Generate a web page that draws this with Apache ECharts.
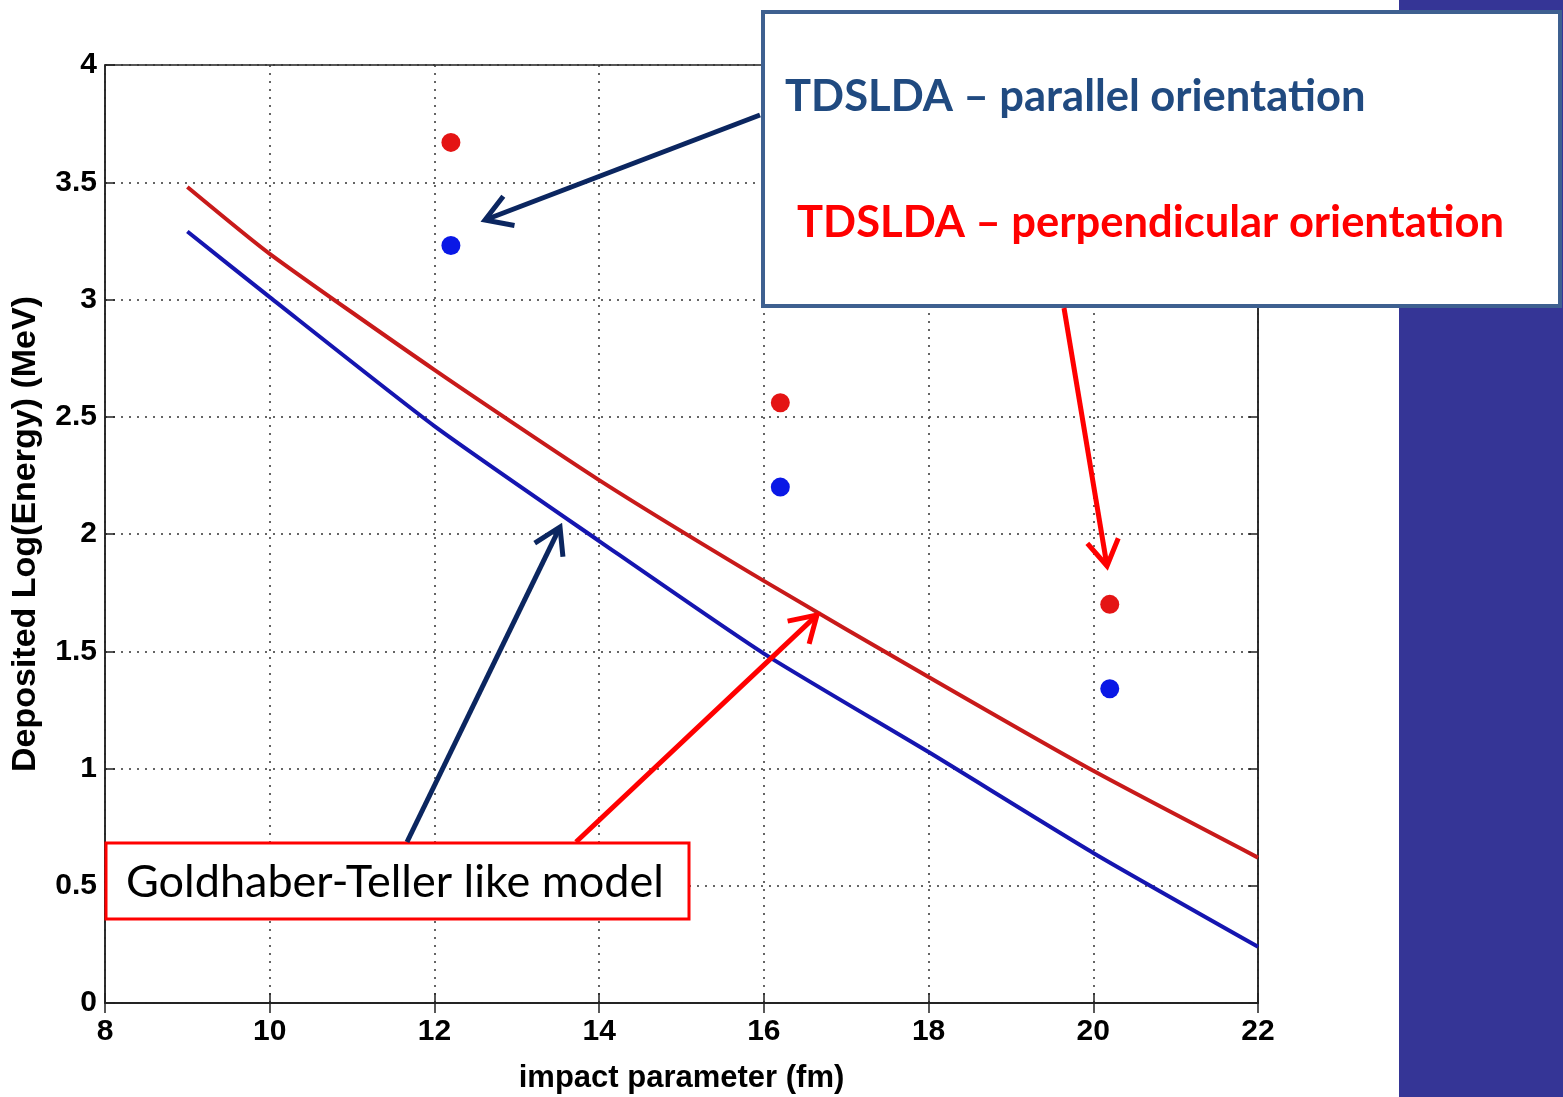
<!DOCTYPE html>
<html><head><meta charset="utf-8">
<script src="https://cdn.jsdelivr.net/npm/echarts@6/dist/echarts.min.js"></script>
<style>html,body{margin:0;padding:0;background:#fff}#c{width:1563px;height:1097px}</style>
</head><body><div id="c"></div>
<script>
// ---- data ----
var xLine = [9, 10, 12, 14, 16, 18, 20, 22];
var redLine = [3.48, 3.195, 2.70, 2.23, 1.80, 1.39, 0.99, 0.62];
var blueLine = [3.29, 3.01, 2.46, 1.97, 1.49, 1.07, 0.64, 0.24];
var xPts = [12.2, 16.2, 20.2];
var redPts = [3.67, 2.56, 1.70];
var bluePts = [3.23, 2.20, 1.34];
var xTicks = [8, 10, 12, 14, 16, 18, 20, 22];
var yTicks = [0, 0.5, 1, 1.5, 2, 2.5, 3, 3.5, 4];
var xTitle = 'impact parameter (fm)';
var yTitle = 'Deposited Log(Energy) (MeV)';
var legendParallel = 'TDSLDA \u2013 parallel orientation';
var legendPerp = 'TDSLDA \u2013 perpendicular orientation';
var modelLabel = 'Goldhaber-Teller like model';

function zip(a, b) { return a.map(function (v, i) { return [v, b[i]]; }); }

function arrow(x1, y1, x2, y2, color, w, head) {
  var a = Math.atan2(y2 - y1, x2 - x1), s = 0.55;
  var p1 = [x2 - head * Math.cos(a - s), y2 - head * Math.sin(a - s)];
  var p2 = [x2 - head * Math.cos(a + s), y2 - head * Math.sin(a + s)];
  return [
    { type: 'line', z: 50, shape: { x1: x1, y1: y1, x2: x2 - 2 * Math.cos(a), y2: y2 - 2 * Math.sin(a) }, style: { stroke: color, lineWidth: w, lineCap: 'butt' } },
    { type: 'polyline', z: 50, shape: { points: [p1, [x2, y2], p2] }, style: { stroke: color, lineWidth: w, lineJoin: 'miter', fill: null } }
  ];
}

var chart = echarts.init(document.getElementById('c'), null, { renderer: 'canvas' });
var tickFont = { fontFamily: 'Liberation Sans', fontWeight: 'bold', fontSize: 30, color: '#000' };
var gridLine = { show: true, lineStyle: { color: '#333', width: 1.5, type: [2, 6] } };
var axisLn = { show: true, lineStyle: { color: '#222', width: 1.5 } };
var tickLn = { show: true, inside: true, length: 10, lineStyle: { color: '#222', width: 1.5 } };

var graphics = [
  { type: 'rect', z: -10, silent: true, shape: { x: 1399, y: 0, width: 164, height: 1097 }, style: { fill: '#353596' } },
  { type: 'rect', z: 40, shape: { x: 763, y: 12, width: 797, height: 294 }, style: { fill: '#fff', stroke: '#3E6090', lineWidth: 4 } },
  { type: 'text', z: 41, style: { x: 785, y: 97, text: legendParallel, fill: '#204A80', font: 'bold 43.5px Lato', verticalAlign: 'middle' } },
  { type: 'text', z: 41, style: { x: 797, y: 223, text: legendPerp, fill: '#FF0000', font: 'bold 43.5px Lato', verticalAlign: 'middle' } },
  { type: 'rect', z: 40, shape: { x: 106, y: 843, width: 583, height: 76 }, style: { fill: '#fff', stroke: '#FF0000', lineWidth: 3 } },
  { type: 'text', z: 41, style: { x: 126, y: 882, text: modelLabel, fill: '#000', font: '45px Lato', verticalAlign: 'middle' } }
];
graphics = graphics
  .concat(arrow(760, 115, 485, 220, '#0B2660', 5, 30))
  .concat(arrow(1064, 308, 1107, 566, '#FF0000', 5, 30))
  .concat(arrow(407, 842, 560, 527, '#0B2660', 5, 30))
  .concat(arrow(576, 842, 817, 615, '#FF0000', 5, 30));

chart.setOption({
  animation: false,
  backgroundColor: '#fff',
  grid: { left: 105, right: 305, top: 65, bottom: 94, show: true, borderColor: '#222', borderWidth: 1.5, backgroundColor: 'transparent', containLabel: false, outerBoundsMode: 'none' },
  xAxis: [{
    type: 'value', min: 8, max: 22, interval: 2, position: 'bottom',
    name: xTitle, nameLocation: 'middle', nameGap: 60,
    nameTextStyle: { fontFamily: 'Liberation Sans', fontWeight: 'bold', fontSize: 31, color: '#000' },
    axisLine: axisLn, axisTick: tickLn,
    axisLabel: Object.assign({ margin: 14 }, tickFont),
    splitLine: gridLine
  }, {
    type: 'value', min: 8, max: 22, interval: 2, position: 'top',
    axisLine: axisLn, axisTick: tickLn,
    axisLabel: { show: false }, splitLine: { show: false }
  }],
  yAxis: [{
    type: 'value', min: 0, max: 4, interval: 0.5, position: 'left',
    name: yTitle, nameLocation: 'middle', nameGap: 62, nameRotate: 90,
    nameTextStyle: { fontFamily: 'Liberation Sans', fontWeight: 'bold', fontSize: 34, color: '#000' },
    axisLine: axisLn, axisTick: tickLn,
    axisLabel: Object.assign({ margin: 8, formatter: function (v) { return String(v); } }, tickFont),
    splitLine: gridLine
  }, {
    type: 'value', min: 0, max: 4, interval: 0.5, position: 'right',
    axisLine: axisLn, axisTick: tickLn,
    axisLabel: { show: false }, splitLine: { show: false }
  }],
  series: [
    { type: 'line', data: zip(xLine, redLine), smooth: 0.2, showSymbol: false, lineStyle: { color: '#C81A1A', width: 4 }, z: 3 },
    { type: 'line', data: zip(xLine, blueLine), smooth: 0.2, showSymbol: false, lineStyle: { color: '#1515B0', width: 4 }, z: 3 },
    { type: 'scatter', data: zip(xPts, redPts), symbolSize: 19, itemStyle: { color: '#E41414', opacity: 1 }, z: 4 },
    { type: 'scatter', data: zip(xPts, bluePts), symbolSize: 19, itemStyle: { color: '#0A18E6', opacity: 1 }, z: 4 }
  ],
  graphic: graphics
});
</script>
</body></html>
